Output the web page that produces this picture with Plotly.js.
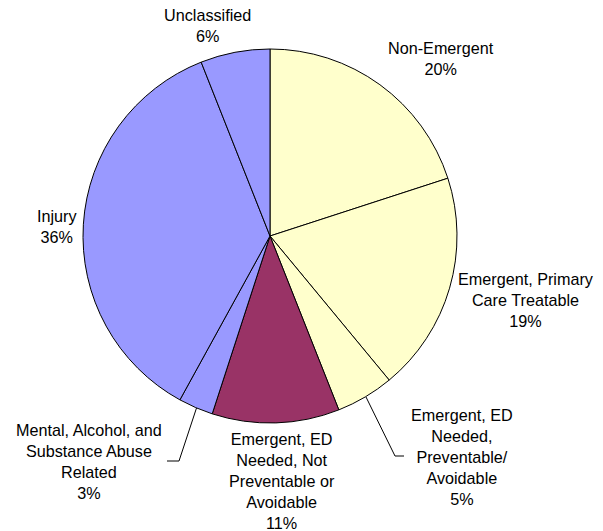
<!DOCTYPE html>
<html>
<head>
<meta charset="utf-8">
<script src="https://cdn.plot.ly/plotly-3.0.1.min.js"></script>
<style>html,body{margin:0;padding:0;background:#fff;}#chart{width:603px;height:531px;}</style>
</head>
<body>
<div id="chart"></div>
<script>
// Data
const categories = [
  "Non-Emergent",
  "Emergent, Primary Care Treatable",
  "Emergent, ED Needed, Preventable/Avoidable",
  "Emergent, ED Needed, Not Preventable or Avoidable",
  "Mental, Alcohol, and Substance Abuse Related",
  "Injury",
  "Unclassified"
];
const labelLines = [
  "Non-Emergent",
  "Emergent, Primary<br>Care Treatable",
  "Emergent, ED<br>Needed,<br>Preventable/<br>Avoidable",
  "Emergent, ED<br>Needed, Not<br>Preventable or<br>Avoidable",
  "Mental, Alcohol, and<br>Substance Abuse<br>Related",
  "Injury",
  "Unclassified"
];
const percents = [20, 19, 5, 11, 3, 36, 6];
const colors = ["#FFFFCC", "#FFFFCC", "#FFFFCC", "#993366", "#9999FF", "#9999FF", "#9999FF"];

// Layout helpers (pixel -> paper)
const W = 603, H = 531;
const px = x => x / W;
const py = y => 1 - y / H;

const labelPos = [
  [441, 58], [526, 300], [462, 457], [282, 481], [89, 461], [57, 226], [207, 25]
];

const annotations = labelLines.map((t, i) => ({
  text: t + "<br>" + percents[i] + "%",
  x: px(labelPos[i][0]), y: py(labelPos[i][1]),
  xref: "paper", yref: "paper", xanchor: "center", yanchor: "middle",
  showarrow: false, align: "center",
  font: {family: "Liberation Sans, Arial, sans-serif", size: 16.2, color: "#000"}
}));

function path(pts) {
  return pts.map((p, i) => (i ? "L" : "M") + px(p[0]) + "," + py(p[1])).join(" ");
}
const shapes = [
  {type: "path", xref: "paper", yref: "paper", path: path([[366, 397], [395, 456], [404, 456]]), line: {color: "#000", width: 1}},
  {type: "path", xref: "paper", yref: "paper", path: path([[196.5, 408], [179, 461], [167, 461]]), line: {color: "#000", width: 1}}
];

const trace = {
  type: "pie",
  labels: categories,
  values: percents,
  sort: false,
  direction: "clockwise",
  rotation: 0,
  textinfo: "none",
  hoverinfo: "label+percent",
  marker: {colors: colors, line: {color: "#000", width: 1}},
  domain: {x: [px(83), px(457)], y: [py(423), py(49)]},
  showlegend: false
};

const layout = {
  width: W, height: H,
  margin: {l: 0, r: 0, t: 0, b: 0},
  paper_bgcolor: "#fff",
  plot_bgcolor: "#fff",
  showlegend: false,
  annotations: annotations,
  shapes: shapes
};

Plotly.newPlot("chart", [trace], layout, {displayModeBar: false, staticPlot: true});
</script>
</body>
</html>
